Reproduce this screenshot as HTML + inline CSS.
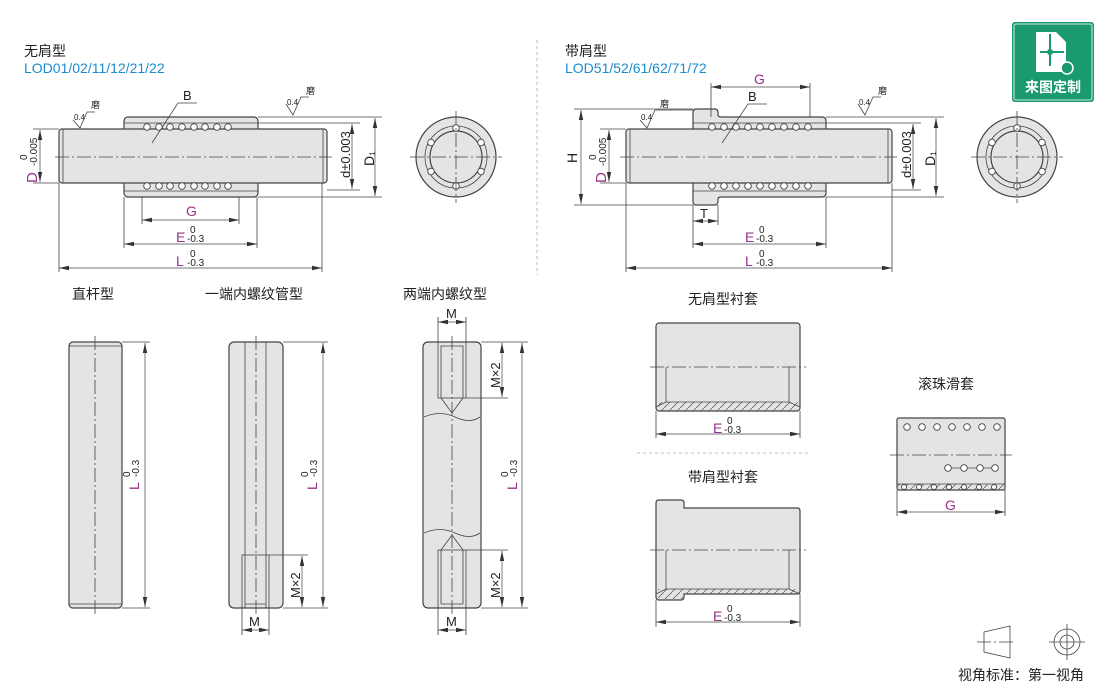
<!DOCTYPE html>
<html><head><meta charset="utf-8"><style>
body{margin:0;background:#fff;width:1110px;height:684px;overflow:hidden}
svg{display:block;font-family:"Liberation Sans","Noto Sans CJK SC",sans-serif}
.p{fill:#e4e4e4;stroke:#444;stroke-width:1.2}
.l{stroke:#444;stroke-width:0.8;fill:none}
.c{stroke:#444;stroke-width:0.8;stroke-dasharray:14,3,2,3;fill:none}
.d{stroke:#444;stroke-width:0.7;fill:none;marker-start:url(#a);marker-end:url(#a)}
.b{fill:#fff;stroke:#444;stroke-width:0.9}
.m{fill:#9b2f8a}
.t{font-size:13px;fill:#222}
.s{font-size:10px;fill:#222}
</style></head><body>
<svg width="1110" height="684" viewBox="0 0 1110 684">
<defs>
<marker id="a" viewBox="0 0 10 6" refX="10" refY="3" markerWidth="10" markerHeight="6" orient="auto-start-reverse" markerUnits="userSpaceOnUse"><path d="M0,0.8L10,3L0,5.2z" fill="#333"/></marker>
<pattern id="h" width="8" height="8" patternUnits="userSpaceOnUse"><path d="M0,8L8,0" stroke="#555" stroke-width="0.7"/></pattern>
</defs>

<!-- TOP LEFT -->
<text x="24" y="56" font-size="14" fill="#222">无肩型</text>
<text x="24" y="73" font-size="14" fill="#1a8ccc">LOD01/02/11/12/21/22</text>
<rect class="p" x="124" y="117" width="134" height="80" rx="4"/>
<rect class="p" x="59" y="129" width="268" height="54" rx="3"/>
<line class="l" x1="63" y1="129" x2="63" y2="183"/><line class="l" x1="323" y1="129" x2="323" y2="183"/>
<line class="l" x1="124" y1="123" x2="258" y2="123"/><line class="l" x1="124" y1="191" x2="258" y2="191"/>
<g class="b">
<circle cx="147" cy="127" r="3.3"/><circle cx="159" cy="127" r="3.3"/><circle cx="170" cy="127" r="3.3"/><circle cx="182" cy="127" r="3.3"/><circle cx="194" cy="127" r="3.3"/><circle cx="205" cy="127" r="3.3"/><circle cx="217" cy="127" r="3.3"/><circle cx="228" cy="127" r="3.3"/>
<circle cx="147" cy="186" r="3.3"/><circle cx="159" cy="186" r="3.3"/><circle cx="170" cy="186" r="3.3"/><circle cx="182" cy="186" r="3.3"/><circle cx="194" cy="186" r="3.3"/><circle cx="205" cy="186" r="3.3"/><circle cx="217" cy="186" r="3.3"/><circle cx="228" cy="186" r="3.3"/>
</g>
<line class="c" x1="55" y1="157" x2="332" y2="157"/>
<line class="l" x1="33" y1="129" x2="59" y2="129"/><line class="l" x1="33" y1="183" x2="59" y2="183"/>
<line class="d" x1="40" y1="130" x2="40" y2="182"/>
<text transform="translate(37,183) rotate(-90)" font-size="15" class="m">D</text>
<text transform="translate(27,160) rotate(-90)" class="s">0</text>
<text transform="translate(37,166) rotate(-90)" class="s">-0.005</text>
<line class="l" x1="258" y1="123" x2="360" y2="123"/><line class="l" x1="327" y1="190" x2="360" y2="190"/>
<line class="l" x1="258" y1="117" x2="382" y2="117"/><line class="l" x1="258" y1="197" x2="382" y2="197"/>
<line class="d" x1="352" y1="124" x2="352" y2="189"/>
<line class="d" x1="375" y1="118" x2="375" y2="196"/>
<text transform="translate(350,178) rotate(-90)" font-size="13" fill="#222">d±0.003</text>
<text transform="translate(374,166) rotate(-90)" font-size="14" fill="#222">D₁</text>
<line class="l" x1="142" y1="197" x2="142" y2="224"/><line class="l" x1="239" y1="197" x2="239" y2="224"/>
<line class="d" x1="142" y1="220" x2="239" y2="220"/>
<text x="186" y="216" font-size="14" class="m">G</text>
<line class="l" x1="124" y1="197" x2="124" y2="248"/><line class="l" x1="257" y1="197" x2="257" y2="248"/>
<line class="d" x1="124" y1="244" x2="257" y2="244"/>
<text x="176" y="242" font-size="14" class="m">E</text><text x="190" y="233" class="s">0</text><text x="187" y="242" class="s">-0.3</text>
<line class="l" x1="59" y1="183" x2="59" y2="272"/><line class="l" x1="322" y1="183" x2="322" y2="272"/>
<line class="d" x1="59" y1="268" x2="322" y2="268"/>
<text x="176" y="266" font-size="14" class="m">L</text><text x="190" y="257" class="s">0</text><text x="187" y="266" class="s">-0.3</text>
<path class="l" d="M152,143L178,103H197"/><text x="183" y="100" font-size="13" fill="#222">B</text>
<path class="l" d="M73,120L80,128L87,112H95"/><text x="74" y="120" font-size="8" fill="#222">0.4</text><text x="91" y="108" font-size="9" fill="#222">磨</text>
<path class="l" d="M286,104L293,115L301,97H309"/><text x="287" y="105" font-size="8" fill="#222">0.4</text><text x="306" y="94" font-size="9" fill="#222">磨</text>
<circle class="p" cx="456" cy="157" r="40"/>
<circle class="l" cx="456" cy="157" r="31"/>
<circle class="p" cx="456" cy="157" r="26"/>
<g class="b"><circle cx="456" cy="128" r="3.3"/><circle cx="456" cy="186" r="3.3"/><circle cx="431" cy="142.5" r="3.3"/><circle cx="481" cy="142.5" r="3.3"/><circle cx="431" cy="171.5" r="3.3"/><circle cx="481" cy="171.5" r="3.3"/></g>
<line class="c" x1="410" y1="157" x2="502" y2="157"/><line class="c" x1="456" y1="111" x2="456" y2="203"/>

<line x1="537" y1="40" x2="537" y2="275" stroke="#aaa" stroke-width="0.8" stroke-dasharray="3,3"/>

<!-- TOP RIGHT -->
<text x="565" y="56" font-size="14" fill="#222">带肩型</text>
<text x="565" y="73" font-size="14" fill="#1a8ccc">LOD51/52/61/62/71/72</text>
<path class="p" d="M696,109H715Q718,109 718,113V115Q718,117 721,117H822Q826,117 826,121V193Q826,197 822,197H721Q718,197 718,199V201Q718,205 715,205H696Q693,205 693,201V113Q693,109 696,109z"/>
<rect class="p" x="626" y="129" width="266" height="54" rx="3"/>
<line class="l" x1="630" y1="129" x2="630" y2="183"/><line class="l" x1="888" y1="129" x2="888" y2="183"/>
<line class="l" x1="693" y1="123" x2="826" y2="123"/><line class="l" x1="693" y1="191" x2="826" y2="191"/>
<g class="b">
<circle cx="712" cy="127" r="3.3"/><circle cx="724" cy="127" r="3.3"/><circle cx="736" cy="127" r="3.3"/><circle cx="748" cy="127" r="3.3"/><circle cx="760" cy="127" r="3.3"/><circle cx="772" cy="127" r="3.3"/><circle cx="784" cy="127" r="3.3"/><circle cx="796" cy="127" r="3.3"/><circle cx="808" cy="127" r="3.3"/>
<circle cx="712" cy="186" r="3.3"/><circle cx="724" cy="186" r="3.3"/><circle cx="736" cy="186" r="3.3"/><circle cx="748" cy="186" r="3.3"/><circle cx="760" cy="186" r="3.3"/><circle cx="772" cy="186" r="3.3"/><circle cx="784" cy="186" r="3.3"/><circle cx="796" cy="186" r="3.3"/><circle cx="808" cy="186" r="3.3"/>
</g>
<line class="c" x1="620" y1="157" x2="897" y2="157"/>
<line class="l" x1="574" y1="109" x2="693" y2="109"/><line class="l" x1="574" y1="205" x2="693" y2="205"/>
<line class="d" x1="581" y1="110" x2="581" y2="204"/>
<text transform="translate(577,163) rotate(-90)" font-size="14" fill="#222">H</text>
<line class="l" x1="600" y1="129" x2="626" y2="129"/><line class="l" x1="600" y1="183" x2="626" y2="183"/>
<line class="d" x1="609" y1="130" x2="609" y2="182"/>
<text transform="translate(606,183) rotate(-90)" font-size="15" class="m">D</text>
<text transform="translate(596,160) rotate(-90)" class="s">0</text>
<text transform="translate(606,166) rotate(-90)" class="s">-0.005</text>
<line class="l" x1="826" y1="123" x2="921" y2="123"/><line class="l" x1="892" y1="190" x2="921" y2="190"/>
<line class="l" x1="826" y1="117" x2="944" y2="117"/><line class="l" x1="826" y1="197" x2="944" y2="197"/>
<line class="d" x1="913" y1="124" x2="913" y2="189"/>
<line class="d" x1="936" y1="118" x2="936" y2="196"/>
<text transform="translate(911,178) rotate(-90)" font-size="13" fill="#222">d±0.003</text>
<text transform="translate(935,166) rotate(-90)" font-size="14" fill="#222">D₁</text>
<line class="l" x1="711" y1="83" x2="711" y2="117"/><line class="l" x1="810" y1="83" x2="810" y2="117"/>
<line class="d" x1="711" y1="87" x2="810" y2="87"/>
<text x="754" y="84" font-size="14" class="m">G</text>
<line class="l" x1="693" y1="205" x2="693" y2="248"/><line class="l" x1="718" y1="205" x2="718" y2="225"/>
<line class="d" x1="693" y1="221" x2="718" y2="221"/><text x="700" y="218" font-size="13" fill="#222">T</text>
<line class="l" x1="826" y1="197" x2="826" y2="248"/>
<line class="d" x1="693" y1="244" x2="826" y2="244"/>
<text x="745" y="242" font-size="14" class="m">E</text><text x="759" y="233" class="s">0</text><text x="756" y="242" class="s">-0.3</text>
<line class="l" x1="626" y1="183" x2="626" y2="272"/><line class="l" x1="892" y1="183" x2="892" y2="272"/>
<line class="d" x1="626" y1="268" x2="892" y2="268"/>
<text x="745" y="266" font-size="14" class="m">L</text><text x="759" y="257" class="s">0</text><text x="756" y="266" class="s">-0.3</text>
<path class="l" d="M722,143L748,104H767"/><text x="748" y="101" font-size="13" fill="#222">B</text>
<path class="l" d="M640,120L647,128L655,110H693"/><text x="641" y="120" font-size="8" fill="#222">0.4</text><text x="660" y="107" font-size="9" fill="#222">磨</text>
<path class="l" d="M858,104L865,115L873,97H881"/><text x="859" y="105" font-size="8" fill="#222">0.4</text><text x="878" y="94" font-size="9" fill="#222">磨</text>
<circle class="p" cx="1017" cy="157" r="40"/>
<circle class="l" cx="1017" cy="157" r="31"/>
<circle class="p" cx="1017" cy="157" r="26"/>
<g class="b"><circle cx="1017" cy="128" r="3.3"/><circle cx="1017" cy="186" r="3.3"/><circle cx="992" cy="142.5" r="3.3"/><circle cx="1042" cy="142.5" r="3.3"/><circle cx="992" cy="171.5" r="3.3"/><circle cx="1042" cy="171.5" r="3.3"/></g>
<line class="c" x1="971" y1="157" x2="1063" y2="157"/><line class="c" x1="1017" y1="111" x2="1017" y2="203"/>

<!-- badge -->
<rect x="1012" y="22" width="82" height="80" rx="3" fill="#1a9a6e"/>
<rect x="1014" y="24" width="78" height="76" rx="2" fill="none" stroke="#fff" stroke-width="0.8"/>
<path d="M1036,32H1056L1066,42V72H1036z" fill="#fff"/>
<path d="M1050,34V66M1040,52H1064" stroke="#1a9a6e" stroke-width="2"/>
<circle cx="1050" cy="52" r="3" fill="#1a9a6e"/>
<circle cx="1067" cy="68" r="6" fill="#1a9a6e" stroke="#fff" stroke-width="1.5"/>
<text x="1053" y="92" font-size="14" font-weight="bold" fill="#fff" text-anchor="middle">来图定制</text>

<!-- BOTTOM LEFT -->
<text x="72" y="299" font-size="14" fill="#222">直杆型</text>
<rect class="p" x="69" y="342" width="53" height="266" rx="4"/>
<line class="l" x1="69" y1="346" x2="122" y2="346"/><line class="l" x1="69" y1="604" x2="122" y2="604"/>
<line class="c" x1="95" y1="336" x2="95" y2="614"/>
<line class="l" x1="122" y1="342" x2="150" y2="342"/><line class="l" x1="122" y1="608" x2="150" y2="608"/>
<line class="d" x1="145" y1="343" x2="145" y2="607"/>
<text transform="translate(139,490) rotate(-90)" font-size="14" class="m">L</text>
<text transform="translate(130,477) rotate(-90)" class="s">0</text><text transform="translate(139,477) rotate(-90)" class="s">-0.3</text>

<text x="205" y="299" font-size="14" fill="#222">一端内螺纹管型</text>
<rect class="p" x="229" y="342" width="54" height="266" rx="5"/>
<line class="l" x1="245" y1="342" x2="245" y2="608"/><line class="l" x1="266" y1="342" x2="266" y2="608"/>
<rect class="l" x="242" y="555" width="27" height="53"/>
<line class="l" x1="245" y1="604" x2="266" y2="604"/>
<line class="c" x1="256" y1="336" x2="256" y2="614"/>
<line class="l" x1="283" y1="342" x2="328" y2="342"/><line class="l" x1="283" y1="608" x2="328" y2="608"/><line class="l" x1="269" y1="555" x2="308" y2="555"/>
<line class="d" x1="323" y1="343" x2="323" y2="607"/>
<line class="d" x1="302" y1="556" x2="302" y2="607"/>
<text transform="translate(300,598) rotate(-90)" font-size="13" fill="#222">M×2</text>
<text transform="translate(317,490) rotate(-90)" font-size="14" class="m">L</text>
<text transform="translate(308,477) rotate(-90)" class="s">0</text><text transform="translate(317,477) rotate(-90)" class="s">-0.3</text>
<line class="l" x1="242" y1="608" x2="242" y2="635"/><line class="l" x1="269" y1="608" x2="269" y2="635"/>
<line class="d" x1="242" y1="630" x2="269" y2="630"/><text x="249" y="626" font-size="13" fill="#222">M</text>

<text x="403" y="299" font-size="14" fill="#222">两端内螺纹型</text>
<rect class="p" x="423" y="342" width="58" height="266" rx="5"/>
<path d="M424,417Q440,410 455,417T480,417M424,533Q440,526 455,533T480,533" class="l" stroke-width="0.6"/>
<rect class="l" x="438" y="342" width="28" height="56"/>
<path class="l" d="M441,346V398L452,413L463,398V346H441z"/>
<rect class="l" x="438" y="550" width="28" height="58"/>
<path class="l" d="M441,604V550L452,535L463,550V604"/>
<line class="l" x1="441" y1="604" x2="463" y2="604"/>
<line class="c" x1="452" y1="336" x2="452" y2="614"/>
<line class="l" x1="481" y1="342" x2="528" y2="342"/><line class="l" x1="481" y1="608" x2="528" y2="608"/>
<line class="l" x1="466" y1="398" x2="508" y2="398"/><line class="l" x1="466" y1="550" x2="508" y2="550"/>
<line class="d" x1="522" y1="343" x2="522" y2="607"/>
<line class="d" x1="502" y1="343" x2="502" y2="397"/>
<line class="d" x1="502" y1="551" x2="502" y2="607"/>
<text transform="translate(500,388) rotate(-90)" font-size="13" fill="#222">M×2</text>
<text transform="translate(500,598) rotate(-90)" font-size="13" fill="#222">M×2</text>
<text transform="translate(517,490) rotate(-90)" font-size="14" class="m">L</text>
<text transform="translate(508,477) rotate(-90)" class="s">0</text><text transform="translate(517,477) rotate(-90)" class="s">-0.3</text>
<line class="l" x1="438" y1="317" x2="438" y2="342"/><line class="l" x1="466" y1="317" x2="466" y2="342"/>
<line class="d" x1="438" y1="322" x2="466" y2="322"/><text x="446" y="318" font-size="13" fill="#222">M</text>
<line class="l" x1="438" y1="608" x2="438" y2="635"/><line class="l" x1="466" y1="608" x2="466" y2="635"/>
<line class="d" x1="438" y1="630" x2="466" y2="630"/><text x="446" y="626" font-size="13" fill="#222">M</text>

<!-- BOTTOM RIGHT -->
<text x="688" y="304" font-size="14" fill="#222">无肩型衬套</text>
<rect class="p" x="656" y="323" width="144" height="88" rx="3"/>
<rect x="658" y="402" width="140" height="9" fill="url(#h)"/>
<path class="l" d="M656,407L666,402H789L800,407M666,367V402M789,367V402"/>
<line class="c" x1="650" y1="367" x2="806" y2="367"/>
<line class="l" x1="656" y1="411" x2="656" y2="438"/><line class="l" x1="800" y1="411" x2="800" y2="438"/>
<line class="d" x1="656" y1="434" x2="800" y2="434"/>
<text x="713" y="433" font-size="14" class="m">E</text><text x="727" y="424" class="s">0</text><text x="724" y="433" class="s">-0.3</text>
<line x1="637" y1="453" x2="810" y2="453" stroke="#aaa" stroke-width="0.8" stroke-dasharray="3,3"/>
<text x="688" y="482" font-size="14" fill="#222">带肩型衬套</text>
<path class="p" d="M659,500H681Q684,500 684,503V508H797Q800,508 800,511V591Q800,594 797,594H684V597Q684,600 681,600H659Q656,600 656,597V503Q656,500 659,500z"/>
<rect x="658" y="589" width="140" height="5" fill="url(#h)"/>
<rect x="658" y="594" width="25" height="5" fill="url(#h)"/>
<path class="l" d="M656,594L666,589H789L800,594M666,550V589M789,550V589"/>
<line class="c" x1="650" y1="550" x2="806" y2="550"/>
<line class="l" x1="656" y1="600" x2="656" y2="627"/><line class="l" x1="800" y1="594" x2="800" y2="627"/>
<line class="d" x1="656" y1="622" x2="800" y2="622"/>
<text x="713" y="621" font-size="14" class="m">E</text><text x="727" y="612" class="s">0</text><text x="724" y="621" class="s">-0.3</text>

<text x="918" y="389" font-size="14" fill="#222">滚珠滑套</text>
<rect class="p" x="897" y="418" width="108" height="72" rx="2"/>
<rect x="898" y="484" width="106" height="6" fill="url(#h)"/>
<line class="l" x1="897" y1="484" x2="1005" y2="484"/>
<g class="b">
<circle cx="907" cy="427" r="3.3"/><circle cx="922" cy="427" r="3.3"/><circle cx="937" cy="427" r="3.3"/><circle cx="952" cy="427" r="3.3"/><circle cx="967" cy="427" r="3.3"/><circle cx="982" cy="427" r="3.3"/><circle cx="997" cy="427" r="3.3"/>
</g>
<line class="l" x1="944" y1="468" x2="996" y2="468"/>
<g class="b"><circle cx="948" cy="468" r="3.3"/><circle cx="964" cy="468" r="3.3"/><circle cx="980" cy="468" r="3.3"/><circle cx="995" cy="468" r="3.3"/></g>
<g class="b"><circle cx="904" cy="487" r="2.5"/><circle cx="919" cy="487" r="2.5"/><circle cx="934" cy="487" r="2.5"/><circle cx="949" cy="487" r="2.5"/><circle cx="964" cy="487" r="2.5"/><circle cx="979" cy="487" r="2.5"/><circle cx="994" cy="487" r="2.5"/></g>
<line class="c" x1="890" y1="455" x2="1012" y2="455"/>
<line class="l" x1="897" y1="490" x2="897" y2="516"/><line class="l" x1="1005" y1="490" x2="1005" y2="516"/>
<line class="d" x1="897" y1="512" x2="1005" y2="512"/>
<text x="945" y="510" font-size="14" class="m">G</text>

<!-- legend -->
<path class="l" d="M984,632L1010,626V658L984,652z"/>
<line class="c" x1="977" y1="642" x2="1016" y2="642"/>
<circle class="l" cx="1067" cy="642" r="13"/><circle class="l" cx="1067" cy="642" r="7"/>
<line class="l" x1="1049" y1="642" x2="1085" y2="642"/><line class="l" x1="1067" y1="624" x2="1067" y2="660"/>
<text x="958" y="680" font-size="14" fill="#222">视角标准：第一视角</text>
</svg>
</body></html>
